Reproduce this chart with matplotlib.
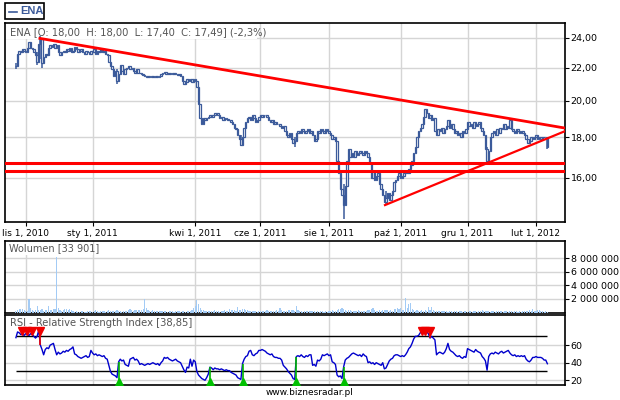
import numpy as np
import pandas as pd
import matplotlib
matplotlib.use('Agg')
import matplotlib.pyplot as plt
from matplotlib.patches import Rectangle
from matplotlib.lines import Line2D

# WSE trading calendar (days without a session)
holidays = ['2010-11-01', '2010-11-11', '2010-12-24', '2010-12-31',
            '2011-01-06', '2011-04-22', '2011-04-25', '2011-05-03',
            '2011-06-23', '2011-08-15', '2011-11-01', '2011-11-11',
            '2011-12-26', '2012-01-06']
dates = pd.bdate_range('2010-10-22', '2012-02-10', freq='C', holidays=holidays)

tick_months = ['2010-11-01', '2011-01-01', '2011-04-01', '2011-06-01',
               '2011-08-01', '2011-10-01', '2011-12-01', '2012-02-01']
tick_labels = ['lis 1, 2010', 'sty 1, 2011', 'kwi 1, 2011', 'cze 1, 2011',
               'sie 1, 2011', 'paź 1, 2011', 'gru 1, 2011', 'lut 1, 2012']

# daily close, ENA
close = [
    22.1, 22.9, 23.1, 23.0, 23.2, 23.1, 23.0, 23.3, 23.7, 23.3,
    23.2, 23.0, 22.8, 22.4, 23.6, 23.9, 22.3, 22.7, 22.9, 22.8,
    23.3, 23.5, 23.4, 23.6, 23.3, 23.5, 23.0, 22.8, 23.0, 23.1,
    23.0, 23.2, 23.1, 23.3, 23.0, 23.1, 23.4, 23.2, 23.0, 23.1,
    23.2, 23.0, 22.9, 23.1, 23.0, 22.9, 23.1, 23.0, 23.2, 22.9,
    23.1, 23.0, 23.2, 23.0, 23.1, 22.9, 22.8, 22.4, 22.1, 21.9,
    21.5, 21.8, 21.2, 21.6, 22.2, 21.8, 21.6, 21.9, 22.0, 22.1,
    21.9, 22.0, 21.8, 21.7, 21.9, 21.7, 21.65, 21.6, 21.55, 21.5,
    21.45, 21.5, 21.4, 21.5, 21.45, 21.4, 21.5, 21.45, 21.5, 21.6,
    21.7, 21.75, 21.6, 21.7, 21.6, 21.65, 21.6, 21.7, 21.6, 21.55,
    21.6, 21.5, 21.2, 21.0, 21.1, 21.3, 21.2, 21.3, 21.1, 21.3,
    21.2, 20.8, 19.8, 19.0, 18.7, 19.0, 18.9, 19.0, 19.1, 19.2,
    19.1, 19.2, 19.3, 19.3, 19.2, 19.0, 19.1, 18.9, 19.0, 18.95,
    18.9, 18.9, 18.8, 18.7, 18.5, 18.4, 18.1, 17.9, 17.6, 18.0,
    18.5, 18.8, 19.0, 19.1, 18.9, 19.2, 19.0, 18.8, 18.9, 19.1,
    19.2, 19.1, 19.2, 19.2, 19.1, 18.9, 18.8, 18.9, 18.7, 18.8,
    18.7, 18.7, 18.6, 18.5, 18.6, 18.3, 18.1, 18.0, 18.2, 17.9,
    17.7, 17.8, 18.2, 18.3, 18.2, 18.4, 18.3, 18.2, 18.3, 18.4,
    18.2, 18.3, 18.1, 17.8, 17.9, 18.3, 18.2, 18.4, 18.3, 18.2,
    18.4, 18.3, 18.2, 18.1, 17.9, 18.0, 17.8, 16.8, 16.2, 15.5,
    15.2, 14.8, 15.6, 16.8, 17.4, 17.0, 17.2, 17.0, 17.3, 17.1,
    17.2, 17.3, 17.2, 17.1, 17.3, 17.2, 17.0, 16.7, 16.0, 16.3,
    15.9, 16.1, 16.2, 15.7, 15.5, 15.2, 14.9, 15.1, 15.3, 15.0,
    15.2, 15.4, 15.8, 15.9, 16.1, 16.2, 16.0, 16.1, 16.2, 16.3,
    16.2, 16.4, 16.6, 16.8, 17.2, 17.5, 18.0, 18.3, 18.5, 18.7,
    19.1, 19.5, 19.3, 19.0, 19.2, 18.9, 19.0, 18.3, 18.1, 18.4,
    18.3, 18.5, 18.2, 18.4, 18.6, 18.9, 18.5, 18.7, 18.4, 18.2,
    18.3, 18.1, 18.2, 18.0, 18.3, 18.2, 18.4, 18.8, 18.6, 18.7,
    18.5, 18.8, 18.6, 18.7, 18.8, 18.5, 18.3, 18.1, 17.4, 16.8,
    17.3, 18.0, 18.2, 18.3, 18.1, 18.4, 18.2, 18.5, 18.4, 18.7,
    18.4, 18.6, 18.5, 18.9, 18.4, 18.3, 18.2, 18.4, 18.3, 18.2,
    18.3, 18.2, 18.1, 17.9, 17.7, 17.8, 18.0, 17.9, 18.0, 18.1,
    17.9, 18.0, 17.9, 18.0, 18.0, 18.0, 17.49]

# longer shadows
wick_idx = [0, 13, 15, 16, 62, 138, 171, 201, 227, 289, 326]
wick_lo = [21.9, 22.2, 22.6, 22.0, 21.0, 17.55, 17.5, 14.2, 14.8, 16.7, 17.4]
wick_hi = [22.3, 23.0, 24.1, 22.8, 21.9, 18.1, 18.0, 15.7, 15.4, 17.5, 18.0]

support = [16.71, 16.33]
down_trend_x = [14.7, 336.5]
down_trend_y = [23.96, 18.48]
up_trend_x = [226.4, 336.5]
up_trend_y = [14.78, 18.30]

# volume, thousands of shares
volume = [
    200, 350, 500, 450, 550, 300, 250, 200, 2000, 600,
    300, 250, 400, 1000, 350, 300, 450, 250, 300, 400,
    900, 350, 300, 500, 450, 8200, 700, 300, 250, 350,
    500, 450, 400, 500, 300, 150, 100, 150, 100, 50,
    150, 200, 100, 50, 150, 250, 150, 100, 200, 300,
    150, 100, 200, 150, 250, 100, 150, 300, 200, 250,
    200, 150, 300, 250, 150, 100, 150, 200, 250, 400,
    500, 300, 250, 350, 300, 400, 350, 300, 450, 2000,
    600, 300, 250, 200, 300, 250, 200, 150, 250, 200,
    150, 200, 150, 100, 200, 150, 250, 100, 150, 200,
    150, 100, 200, 150, 100, 150, 200, 250, 300, 600,
    1000, 1800, 1200, 600, 400, 300, 200, 250, 150, 200,
    150, 200, 300, 250, 150, 100, 200, 250, 300, 250,
    200, 500, 350, 400, 300, 250, 800, 350, 300, 450,
    500, 350, 300, 200, 150, 200, 250, 150, 100, 200,
    150, 250, 200, 150, 300, 200, 150, 250, 200, 150,
    300, 250, 600, 300, 250, 200, 150, 300, 400, 350,
    400, 250, 900, 300, 200, 150, 100, 200, 150, 250,
    200, 150, 250, 200, 100, 150, 100, 200, 150, 100,
    150, 100, 200, 250, 300, 200, 250, 350, 550, 500,
    600, 450, 300, 250, 350, 300, 200, 250, 150, 200,
    300, 250, 200, 150, 250, 200, 300, 350, 450, 700,
    400, 250, 200, 300, 250, 350, 400, 300, 350, 250,
    300, 200, 450, 550, 700, 500, 600, 350, 400, 2100,
    700, 1300, 1400, 500, 300, 250, 400, 200, 250, 300,
    200, 300, 250, 800, 400, 800, 300, 200, 250, 150,
    200, 150, 250, 200, 150, 100, 200, 150, 100, 200,
    150, 100, 150, 200, 100, 150, 250, 100, 150, 200,
    100, 150, 200, 100, 150, 200, 400, 150, 200, 250,
    150, 100, 200, 150, 100, 150, 250, 150, 200, 100,
    150, 200, 100, 150, 250, 100, 150, 200, 100, 150,
    100, 150, 200, 150, 250, 300, 200, 550, 250, 200,
    300, 350, 250, 150, 100, 150, 34]

rsi = [
    68.5, 75, 74, 72, 73, 71, 73, 72, 71, 73,
    72, 70, 68, 70, 77, 60, 55, 49, 55, 57,
    56, 60, 61, 62, 55, 49, 52, 50, 51, 53,
    52, 54, 53, 55, 56, 58, 50, 49, 47, 46,
    45, 46, 47, 48, 46, 47, 54, 51, 49, 50,
    48, 49, 48, 47, 48, 45, 44, 37, 30, 27,
    26, 25, 23, 41, 44, 42, 43, 38, 37, 36,
    44, 45, 46, 43, 44, 42, 38, 39, 38, 37,
    38, 39, 38, 39, 40, 39, 38, 39, 37, 40,
    42, 46, 45, 46, 44, 43, 42, 43, 44, 42,
    41, 40, 36, 32, 29, 35, 34, 44, 36, 43,
    41, 30, 26, 24, 22, 21, 20, 23, 27, 35,
    34, 32, 34, 33, 33, 32, 33, 32, 31, 32,
    31, 31, 29, 28, 27, 26, 23, 22, 21, 39,
    44, 47, 48, 53, 54, 49, 48, 50, 51, 54,
    54, 55, 54, 53, 51, 50, 49, 50, 47, 46,
    46, 45, 45, 43, 37, 35, 33, 30, 28, 26,
    22, 21, 47, 48, 47, 49, 47, 46, 48, 47,
    49, 49, 37, 38, 36, 43, 42, 44, 49, 48,
    49, 50, 48, 49, 41, 40, 38, 26, 24, 25,
    22, 35, 43, 45, 46, 48, 50, 51, 50, 49,
    48, 49, 47, 50, 48, 47, 40, 41, 39, 40,
    38, 40, 39, 38, 37, 40, 33, 34, 38, 42,
    44, 45, 48, 49, 49, 48, 47, 48, 47, 49,
    52, 56, 58, 62, 67, 70, 70, 71, 74, 75,
    74, 73, 75, 73, 68, 70, 68, 66, 49, 51,
    52, 51, 50, 52, 56, 62, 55, 53, 52, 50,
    48, 47, 48, 46, 45, 47, 46, 56, 55, 54,
    53, 52, 55, 53, 52, 51, 47, 45, 42, 31.5,
    47, 50, 51, 50, 52, 51, 50, 52, 53, 51,
    52, 53, 54, 51, 49, 48, 49, 47, 48, 47,
    48, 47, 48, 44, 42, 41, 43, 46, 46, 47,
    46, 46, 46, 45, 43, 43, 38.85]

sell_idx = [4, 7, 10, 15, 249, 251, 254]
buy_idx = [63, 119, 139, 172, 201]

x = np.arange(len(dates))
assert len(close) == len(x), (len(close), len(x))
assert len(volume) == len(x), len(volume)
assert len(rsi) == len(x), len(rsi)
close = np.array(close)
opens = np.r_[close[0], close[:-1]]
volume = np.array(volume) * 1000
rsi = np.array(rsi)
tick_idx = dates.searchsorted(pd.to_datetime(tick_months))

blue = '#3b5a9a'
red = '#ff0000'
grid_c = '#d5d5d5'
label_c = '#555555'
fs = 6.8

W, H = 620, 400
fig = plt.figure(figsize=(W / 100, H / 100), dpi=100)


def panel(top, bottom):
    a = fig.add_axes([5 / W, 1 - bottom / H, 559.5 / W, (bottom - top) / H])
    a.set_xlim(-6.7, 336.5)
    a.set_axisbelow(True)
    a.grid(True, color=grid_c, lw=1)
    for s in a.spines.values():
        s.set_linewidth(1.2)
    a.yaxis.tick_right()
    a.tick_params(axis='y', labelsize=fs, length=3, pad=1.5, width=0.8)
    a.set_xticks(tick_idx)
    return a


def white_box(a, w, h):
    a.add_patch(Rectangle((0, 1 - h), w, h, transform=a.transAxes,
                          fc='white', ec='none', zorder=1))


# price panel, hollow candles
ax = panel(23.3, 222.3)
ax.set_yscale('log')
ax.set_ylim(14.06, 25.03)
ax.set_yticks([16, 18, 20, 22, 24], labels=['16,00', '18,00', '20,00', '22,00', '24,00'])
ax.minorticks_off()
ax.set_xticklabels(tick_labels)
ax.tick_params(axis='x', labelsize=6.5, length=3, pad=2, width=0.8)
white_box(ax, 0.45, 0.077)
ax.vlines(wick_idx, wick_lo, wick_hi, color=blue, lw=1.1, zorder=3)
ax.bar(x, close - opens, bottom=opens, width=0.85, fc='white', ec=blue, lw=0.9, zorder=3)
for lvl in support:
    ax.axhline(lvl, color=red, lw=2.2, zorder=4)
ax.plot(down_trend_x, down_trend_y, color=red, lw=2.0, zorder=4)
ax.plot(up_trend_x, up_trend_y, color=red, lw=1.6, zorder=4)
ax.text(0.0095, 0.958, 'ENA [O: 18,00  H: 18,00  L: 17,40  C: 17,49] (-2,3%)',
        transform=ax.transAxes, fontsize=7.2, color=label_c, va='center', zorder=5)

# volume panel
axv = panel(241, 312.5)
axv.set_ylim(0, 10.5e6)
axv.set_yticks([2e6, 4e6, 6e6, 8e6], labels=['2 000 000', '4 000 000', '6 000 000', '8 000 000'])
axv.set_xticklabels([])
axv.tick_params(axis='x', length=0)
white_box(axv, 0.158, 0.2)
axv.bar(x, volume, width=0.7, color='#a3cbf5', lw=0, zorder=3)
axv.text(0.007, 0.895, 'Wolumen [33 901]', transform=axv.transAxes,
         fontsize=7, color=label_c, va='center', zorder=5)

# RSI panel
axr = panel(314.7, 385.3)
axr.set_ylim(14.3, 94.6)
axr.set_yticks([20, 40, 60], labels=['20', '40', '60'])
axr.set_xticklabels([])
axr.tick_params(axis='x', length=0)
white_box(axr, 0.318, 0.2)
axr.hlines([30, 70], x[0], x[-1], color='black', lw=1.0, zorder=2)
axr.plot(x, rsi, color='#0000cc', lw=1.0, zorder=3)
axr.vlines(buy_idx, 17.5, rsi[buy_idx], color='#00b400', lw=1.2, zorder=4)
axr.plot(buy_idx, [18.0] * len(buy_idx), ls='none', marker='^', ms=5.5,
         color='#00c000', zorder=5)
axr.vlines(sell_idx, rsi[sell_idx], 75, color='#ee0000', lw=1.2, zorder=4)
axr.plot(sell_idx, [75.5] * len(sell_idx), ls='none', marker='v', ms=5.5,
         color='#ee0000', zorder=5)
axr.text(0.009, 0.885, 'RSI - Relative Strength Index [38,85]', transform=axr.transAxes,
         fontsize=7.2, color=label_c, va='center', zorder=5)

# legend box at the top
fig.add_artist(Rectangle((5 / W, 1 - 19 / H), 39.3 / W, 15.7 / H, transform=fig.transFigure,
                         fill=False, ec='black', lw=1.2))
fig.add_artist(Line2D([9 / W, 17 / W], [1 - 11.5 / H] * 2, transform=fig.transFigure,
                      color=blue, lw=1.2))
fig.text(20 / W, 1 - 11.3 / H, 'ENA', fontsize=8, fontweight='bold', color=blue,
         family='Liberation Sans', va='center')

fig.text(0.5, 1 - 392.5 / H, 'www.biznesradar.pl', ha='center', va='center', fontsize=6.5)

fig.savefig('out.png', dpi=100)
